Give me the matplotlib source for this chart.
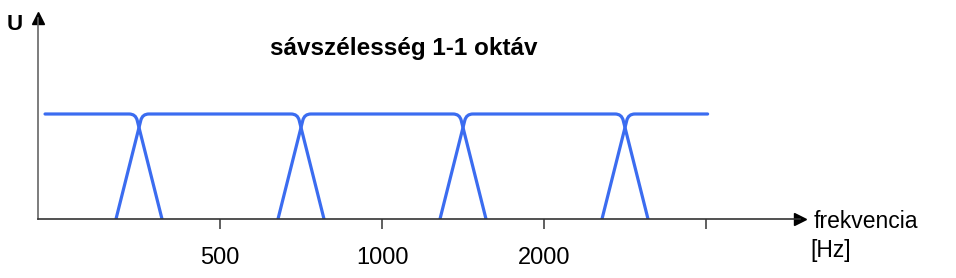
import matplotlib.pyplot as plt
from matplotlib.path import Path
from matplotlib.patches import PathPatch

plt.rcParams['font.family'] = ['Liberation Sans', 'DejaVu Sans']

# octave filter bank (x in octave steps, tick 1 = 500 Hz)
crossings = [0.5, 1.5, 2.5, 3.5]
band_start = -0.08
band_end = 4.01
level = 1.0
foot = 0.142     # half width of the skirts at the bottom
shoulder = 0.021  # half width at the top
tick_pos = [1, 2, 3, 4]
tick_labels = ['500', '1000', '2000', '']

blue = '#3b6cf0'

W, H = 956, 278
fig = plt.figure(figsize=(W / 100, H / 100), dpi=100)
x0, y0, x1, y1 = 38, 219, 800, 18
ax = fig.add_axes([x0 / W, 1 - y0 / H, (x1 - x0) / W, (y0 - y1) / H])

px = 162.0  # pixels per octave
ax.set_xlim((x0 - 58) / px, (x1 - 58) / px)
ax.set_ylim(0, (y0 - y1) / 105.0)


def filter_path(left, right):
    verts, codes = [], []
    r = 0.04
    f = 0.06
    if left is None:
        verts += [(band_start, level)]
        codes += [Path.MOVETO]
    else:
        bx = left - foot
        tx = left + shoulder
        verts += [(bx, 0),
                  (tx - (tx - bx) * f, level * (1 - f)),
                  (tx, level), (tx + r, level)]
        codes += [Path.MOVETO, Path.LINETO, Path.CURVE3, Path.CURVE3]
    if right is None:
        verts += [(band_end, level)]
        codes += [Path.LINETO]
    else:
        tx = right - shoulder
        bx = right + foot
        verts += [(tx - r, level), (tx, level),
                  (tx + (bx - tx) * f, level * (1 - f)), (bx, 0)]
        codes += [Path.LINETO, Path.CURVE3, Path.CURVE3, Path.LINETO]
    return Path(verts, codes)


edges = [None] + crossings + [None]
for a, b in zip(edges[:-1], edges[1:]):
    ax.add_patch(PathPatch(filter_path(a, b), fill=False, edgecolor=blue,
                           lw=2.3, capstyle='round', joinstyle='round'))

for s in ['top', 'right']:
    ax.spines[s].set_visible(False)
ax.spines['left'].set_color('#666666')
ax.spines['bottom'].set_color('#333333')
ax.spines['left'].set_linewidth(1.2)
ax.spines['bottom'].set_linewidth(1.2)
ax.plot(1, 0, '>', color='black', ms=9, transform=ax.transAxes, clip_on=False)
ax.plot(0, 1, '^', color='black', ms=9, transform=ax.transAxes, clip_on=False)

ax.set_xticks(tick_pos)
ax.set_xticklabels(tick_labels, fontsize=17)
ax.tick_params(axis='x', direction='out', length=7, width=1.2,
               color='#444444', pad=13)
ax.set_yticks([])

fig.text(7 / W, 1 - 25 / H, 'U', fontsize=16, fontweight='bold',
         va='center', ha='left')
fig.text(404 / W, 1 - 49 / H, 'sávszélesség 1-1 oktáv', fontsize=17.5,
         fontweight='bold', va='center', ha='center')
fig.text(814 / W, 1 - 221 / H, 'frekvencia', fontsize=16.5,
         va='center', ha='left')
fig.text(810 / W, 1 - 251 / H, '[Hz]', fontsize=16.5,
         va='center', ha='left')

fig.savefig('out.png', dpi=100)
